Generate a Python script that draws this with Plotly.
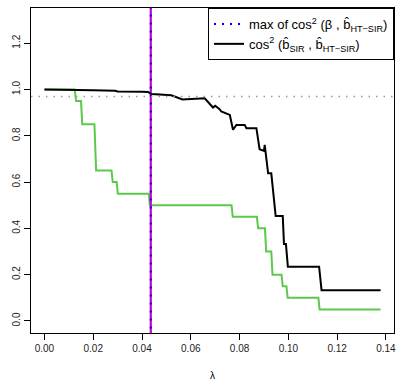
import plotly.graph_objects as go

# lambda grid points and values
lam_sir = [0.0, 0.013, 0.020, 0.029, 0.030, 0.040, 0.0425, 0.0440, 0.0520, 0.0566,
           0.0610, 0.0657, 0.0691, 0.0700, 0.0718, 0.0725, 0.0760, 0.0773, 0.0787,
           0.0821, 0.0828, 0.0869, 0.0882, 0.0900, 0.0903, 0.0917, 0.0930, 0.0948,
           0.0977, 0.0982, 0.0990, 0.0998, 0.1126, 0.1136, 0.1378]
cos_sir = [1.000, 1.000, 0.997, 0.994, 0.991, 0.990, 0.989, 0.980, 0.975, 0.957,
           0.958, 0.962, 0.922, 0.930, 0.915, 0.905, 0.890, 0.826, 0.847,
           0.847, 0.833, 0.833, 0.742, 0.735, 0.761, 0.638, 0.638, 0.453,
           0.453, 0.332, 0.332, 0.234, 0.234, 0.133, 0.133]

lam_green = [0.0, 0.0124, 0.0130, 0.0150, 0.0155, 0.0205, 0.0212, 0.0275, 0.0280,
             0.0296, 0.0301, 0.0428, 0.0432, 0.0767, 0.0772, 0.0871, 0.0876,
             0.0904, 0.0909, 0.0930, 0.0935, 0.0972, 0.0977, 0.0992, 0.0997,
             0.1123, 0.1128, 0.1378]
val_green = [1.00, 1.00, 0.95, 0.95, 0.85, 0.85, 0.65, 0.65, 0.60,
             0.60, 0.55, 0.55, 0.50, 0.50, 0.45, 0.45, 0.40,
             0.40, 0.30, 0.30, 0.20, 0.20, 0.15, 0.15, 0.10,
             0.10, 0.05, 0.05]

lam_opt = 0.0436
max_cos = 0.97

x_ticks = [0.00, 0.02, 0.04, 0.06, 0.08, 0.10, 0.12, 0.14]
y_ticks = [0.0, 0.2, 0.4, 0.6, 0.8, 1.0, 1.2]

fig = go.Figure()

fig.add_trace(go.Scatter(x=lam_green, y=val_green, mode="lines",
                         line=dict(color="#5CC84C", width=2), showlegend=False))
fig.add_trace(go.Scatter(x=[lam_opt, lam_opt], y=[-1, 3], mode="lines",
                         line=dict(color="#CC00CC", width=2.2), showlegend=False))
fig.add_trace(go.Scatter(x=[lam_opt, lam_opt], y=[-1, 3], mode="lines",
                         line=dict(color="blue", width=2, dash="2px,6px"),
                         name="max of cos<sup>2</sup> (β , b\u0302<sub>HT\u2212SIR</sub>)"))
fig.add_trace(go.Scatter(x=lam_sir, y=cos_sir, mode="lines",
                         line=dict(color="black", width=2),
                         name="cos<sup>2</sup> (b\u0302<sub>SIR</sub> , b\u0302<sub>HT\u2212SIR</sub>)"))

fig.add_shape(type="line", xref="paper", x0=0, x1=1, yref="y", y0=max_cos, y1=max_cos,
              line=dict(color="#999999", width=1.5, dash="1.5px,6px"))

axis_common = dict(showline=True, linecolor="black", linewidth=1, mirror=True,
                   ticks="outside", ticklen=6, tickcolor="black", showgrid=False,
                   zeroline=False, automargin=False,
                   tickfont=dict(family="Liberation Sans, Arial", size=10, color="#222"))

fig.update_layout(
    width=398, height=381,
    margin=dict(l=31, r=4, t=8, b=48),
    plot_bgcolor="white", paper_bgcolor="white",
    font=dict(family="Liberation Sans, Arial", color="black"),
    xaxis=dict(range=[-0.0055, 0.1433], tickvals=x_ticks,
               ticktext=[f"{v:.2f}" for v in x_ticks],
               title=dict(text="λ", font=dict(size=10), standoff=22),
               **axis_common),
    yaxis=dict(range=[-0.052, 1.352], tickvals=y_ticks,
               ticktext=[f"{v:.1f}" for v in y_ticks], tickangle=-90,
               **axis_common),
    legend=dict(x=1, y=1, xanchor="right", yanchor="top",
                bordercolor="black", borderwidth=1, bgcolor="white",
                font=dict(size=13), tracegroupgap=0, itemwidth=30),
)

fig.write_html("out.html")
